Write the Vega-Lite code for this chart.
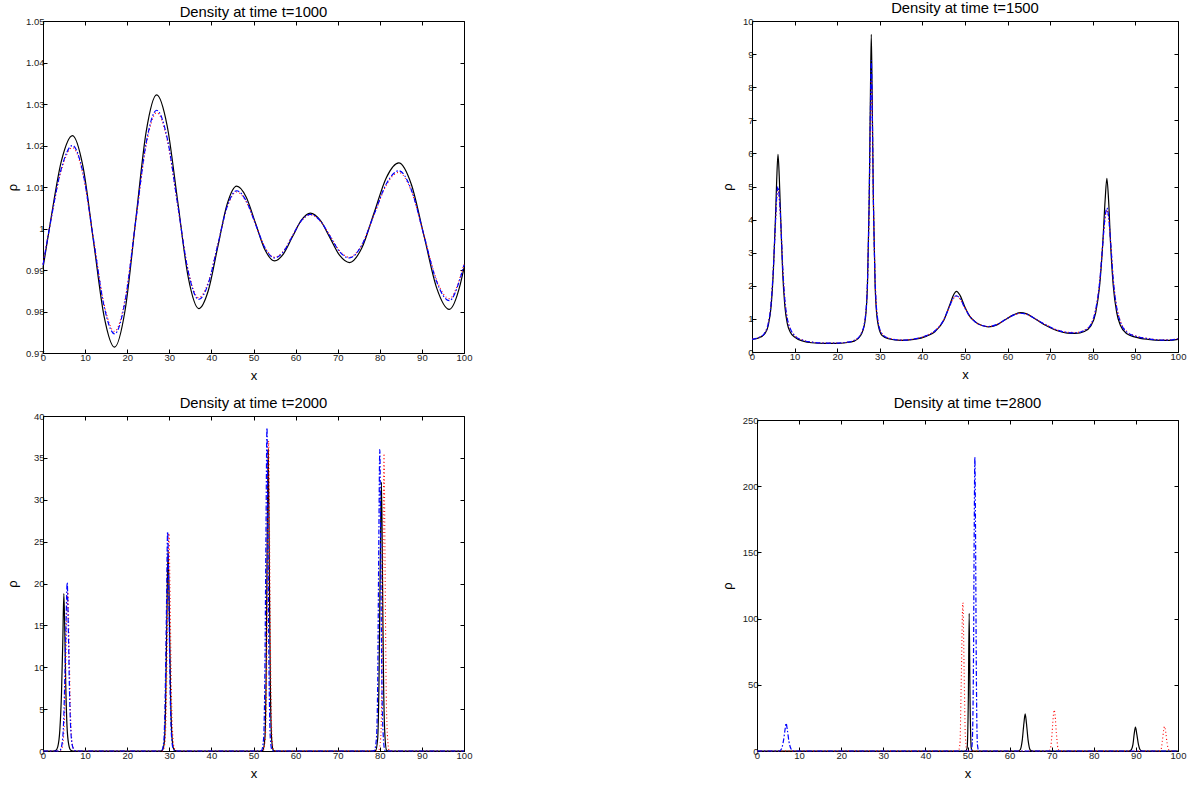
{
  "$schema": "https://vega.github.io/schema/vega-lite/v6.json",
  "background": "white",
  "padding": {"left": 5, "top": 0, "right": 5, "bottom": 5},
  "config": {
    "font": "Liberation Sans",
    "view": {"stroke": "black", "strokeWidth": 1},
    "axis": {"domainColor": "black", "tickColor": "black", "labelColor": "#222222", "titleColor": "black", "labelFont": "Liberation Sans", "labelFontSize": 9.5, "titleFont": "Liberation Sans", "titleFontSize": 13, "titleFontWeight": "normal", "tickSize": -4, "grid": false, "labelFlush": false, "labelOverlap": false, "labelPadding": 3},
    "axisBottom": {"minExtent": 14, "maxExtent": 14, "titlePadding": 12, "titleBaseline": "alphabetic"},
    "axisTop": {"minExtent": 0, "maxExtent": 0},
    "axisRight": {"minExtent": 0, "maxExtent": 0},
    "title": {"font": "Liberation Sans", "fontSize": 14.8, "fontWeight": "normal", "color": "black", "baseline": "alphabetic", "anchor": "middle", "frame": "group"},
    "line": {"interpolate": "monotone"}
  },
  "columns": 2,
  "align": "none",
  "spacing": {"column": 247, "row": 12},
  "concat": [
    {
      "width": 421, "height": 332,
      "title": {"text": "Density at time t=1000", "offset": -4},
      "layer": [
        {"data": {"name": "k1"}, "mark": {"type": "line", "color": "black", "strokeWidth": 1.2},
         "encoding": {
           "x": {"field": "x", "type": "quantitative", "scale": {"domain": [0, 100], "nice": false, "zero": false}, "axis": {"values": [0,10,20,30,40,50,60,70,80,90,100], "title": "x"}},
           "y": {"field": "y", "type": "quantitative", "scale": {"domain": [0.97, 1.05], "nice": false, "zero": false}, "axis": {"values": [0.97,0.98,0.99,1,1.01,1.02,1.03,1.04,1.05], "format": "~r", "title": "ρ", "minExtent": 20, "maxExtent": 20, "titlePadding": 4}}
         }},
        {"data": {"name": "r1"}, "mark": {"type": "line", "color": "red", "strokeWidth": 1.1, "strokeDash": [1, 2.5]},
         "encoding": {"x": {"field": "x", "type": "quantitative", "axis": null}, "y": {"field": "y", "type": "quantitative", "axis": null}}},
        {"data": {"name": "b1"}, "mark": {"type": "line", "color": "blue", "strokeWidth": 1.2, "strokeDash": [5, 2, 1.5, 2]},
         "encoding": {"x": {"field": "x", "type": "quantitative", "axis": null}, "y": {"field": "y", "type": "quantitative", "axis": null}}},
        {"data": {"name": "k1"}, "mark": {"type": "line", "opacity": 0},
         "encoding": {
           "x": {"field": "x", "type": "quantitative", "axis": {"orient": "top", "labels": false, "title": null, "domain": false, "minExtent": 0, "maxExtent": 0, "values": [0,10,20,30,40,50,60,70,80,90,100]}},
           "y": {"field": "y", "type": "quantitative", "axis": {"orient": "right", "labels": false, "title": null, "domain": false, "minExtent": 0, "maxExtent": 0, "values": [0.97,0.98,0.99,1,1.01,1.02,1.03,1.04,1.05]}}
         }}
      ],
      "resolve": {"axis": {"x": "independent", "y": "independent"}}
    },
    {
      "width": 426, "height": 331,
      "title": {"text": "Density at time t=1500", "offset": 0},
      "layer": [
        {"data": {"name": "k2"}, "mark": {"type": "line", "color": "black", "strokeWidth": 1.2},
         "encoding": {
           "x": {"field": "x", "type": "quantitative", "scale": {"domain": [0, 100], "nice": false, "zero": false}, "axis": {"values": [0,10,20,30,40,50,60,70,80,90,100], "title": "x"}},
           "y": {"field": "y", "type": "quantitative", "scale": {"domain": [0, 10], "nice": false, "zero": false}, "axis": {"values": [0,1,2,3,4,5,6,7,8,9,10], "format": "~r", "title": "ρ", "minExtent": 14, "maxExtent": 14, "titlePadding": 4}}
         }},
        {"data": {"name": "r2"}, "mark": {"type": "line", "color": "red", "strokeWidth": 1.1, "strokeDash": [1, 2.5]},
         "encoding": {"x": {"field": "x", "type": "quantitative", "axis": null}, "y": {"field": "y", "type": "quantitative", "axis": null}}},
        {"data": {"name": "b2"}, "mark": {"type": "line", "color": "blue", "strokeWidth": 1.2, "strokeDash": [5, 2, 1.5, 2]},
         "encoding": {"x": {"field": "x", "type": "quantitative", "axis": null}, "y": {"field": "y", "type": "quantitative", "axis": null}}},
        {"data": {"name": "k2"}, "mark": {"type": "line", "opacity": 0},
         "encoding": {
           "x": {"field": "x", "type": "quantitative", "axis": {"orient": "top", "labels": false, "title": null, "domain": false, "minExtent": 0, "maxExtent": 0, "values": [0,10,20,30,40,50,60,70,80,90,100]}},
           "y": {"field": "y", "type": "quantitative", "axis": {"orient": "right", "labels": false, "title": null, "domain": false, "minExtent": 0, "maxExtent": 0, "values": [0,1,2,3,4,5,6,7,8,9,10]}}
         }}
      ],
      "resolve": {"axis": {"x": "independent", "y": "independent"}}
    },
    {
      "width": 421, "height": 335,
      "title": {"text": "Density at time t=2000", "offset": 0},
      "layer": [
        {"data": {"name": "k3"}, "mark": {"type": "line", "color": "black", "strokeWidth": 1.2},
         "encoding": {
           "x": {"field": "x", "type": "quantitative", "scale": {"domain": [0, 100], "nice": false, "zero": false}, "axis": {"values": [0,10,20,30,40,50,60,70,80,90,100], "title": "x"}},
           "y": {"field": "y", "type": "quantitative", "scale": {"domain": [0, 40], "nice": false, "zero": false}, "axis": {"values": [0,5,10,15,20,25,30,35,40], "format": "~r", "title": "ρ", "minExtent": 20, "maxExtent": 20, "titlePadding": 4}}
         }},
        {"data": {"name": "r3"}, "mark": {"type": "line", "color": "red", "strokeWidth": 1.1, "strokeDash": [1, 2.5]},
         "encoding": {"x": {"field": "x", "type": "quantitative", "axis": null}, "y": {"field": "y", "type": "quantitative", "axis": null}}},
        {"data": {"name": "b3"}, "mark": {"type": "line", "color": "blue", "strokeWidth": 1.2, "strokeDash": [5, 2, 1.5, 2]},
         "encoding": {"x": {"field": "x", "type": "quantitative", "axis": null}, "y": {"field": "y", "type": "quantitative", "axis": null}}},
        {"data": {"name": "k3"}, "mark": {"type": "line", "opacity": 0},
         "encoding": {
           "x": {"field": "x", "type": "quantitative", "axis": {"orient": "top", "labels": false, "title": null, "domain": false, "minExtent": 0, "maxExtent": 0, "values": [0,10,20,30,40,50,60,70,80,90,100]}},
           "y": {"field": "y", "type": "quantitative", "axis": {"orient": "right", "labels": false, "title": null, "domain": false, "minExtent": 0, "maxExtent": 0, "values": [0,5,10,15,20,25,30,35,40]}}
         }}
      ],
      "resolve": {"axis": {"x": "independent", "y": "independent"}}
    },
    {
      "width": 421, "height": 331,
      "title": {"text": "Density at time t=2800", "offset": 4.5},
      "layer": [
        {"data": {"name": "k4"}, "mark": {"type": "line", "color": "black", "strokeWidth": 1.2},
         "encoding": {
           "x": {"field": "x", "type": "quantitative", "scale": {"domain": [0, 100], "nice": false, "zero": false}, "axis": {"values": [0,10,20,30,40,50,60,70,80,90,100], "title": "x"}},
           "y": {"field": "y", "type": "quantitative", "scale": {"domain": [0, 250], "nice": false, "zero": false}, "axis": {"values": [0,50,100,150,200,250], "format": "~r", "title": "ρ", "minExtent": 19, "maxExtent": 19, "titlePadding": 4}}
         }},
        {"data": {"name": "r4"}, "mark": {"type": "line", "color": "red", "strokeWidth": 1.1, "strokeDash": [1, 2.5]},
         "encoding": {"x": {"field": "x", "type": "quantitative", "axis": null}, "y": {"field": "y", "type": "quantitative", "axis": null}}},
        {"data": {"name": "b4"}, "mark": {"type": "line", "color": "blue", "strokeWidth": 1.2, "strokeDash": [5, 2, 1.5, 2]},
         "encoding": {"x": {"field": "x", "type": "quantitative", "axis": null}, "y": {"field": "y", "type": "quantitative", "axis": null}}},
        {"data": {"name": "k4"}, "mark": {"type": "line", "opacity": 0},
         "encoding": {
           "x": {"field": "x", "type": "quantitative", "axis": {"orient": "top", "labels": false, "title": null, "domain": false, "minExtent": 0, "maxExtent": 0, "values": [0,10,20,30,40,50,60,70,80,90,100]}},
           "y": {"field": "y", "type": "quantitative", "axis": {"orient": "right", "labels": false, "title": null, "domain": false, "minExtent": 0, "maxExtent": 0, "values": [0,50,100,150,200,250]}}
         }}
      ],
      "resolve": {"axis": {"x": "independent", "y": "independent"}}
    }
  ],
  "datasets": {
    "k1": [
      {"x":0,"y":0.9905},{"x":1.75,"y":1.0015},{"x":4.375,"y":1.0163},{"x":7,"y":1.0224},{"x":9.5,"y":1.0149},{"x":12,"y":0.9969},{"x":14.5,"y":0.9789},{"x":17,"y":0.9714},{"x":19.5,"y":0.9803},{"x":22,"y":1.0018},{"x":24.5,"y":1.0233},{"x":27,"y":1.0322},{"x":29.5,"y":1.0247},{"x":32,"y":1.0065},{"x":34.5,"y":0.9882},{"x":37,"y":0.9807},{"x":39.25,"y":0.985},{"x":41.5,"y":0.9955},{"x":43.75,"y":1.0059},{"x":46,"y":1.0102},{"x":48.25,"y":1.0076},{"x":50.5,"y":1.0012},{"x":52.75,"y":0.9948},{"x":55,"y":0.9922},{"x":57.125,"y":0.9939},{"x":59.25,"y":0.998},{"x":61.375,"y":1.002},{"x":63.5,"y":1.0037},{"x":65.825,"y":1.002},{"x":68.15,"y":0.9978},{"x":70.475,"y":0.9935},{"x":72.8,"y":0.9918},{"x":75.725,"y":0.9953},{"x":78.65,"y":1.0038},{"x":81.575,"y":1.0123},{"x":84.5,"y":1.0158},{"x":87.5,"y":1.0106},{"x":90.5,"y":0.9982},{"x":93.5,"y":0.9857},{"x":96.5,"y":0.9805},{"x":99.125,"y":0.9866},{"x":100,"y":0.9905}
    ],
    "b1": [
      {"x":0,"y":0.9912},{"x":1.75,"y":1.0013},{"x":4.375,"y":1.0145},{"x":7,"y":1.02},{"x":9.5,"y":1.0134},{"x":12,"y":0.9973},{"x":14.5,"y":0.9813},{"x":17,"y":0.9746},{"x":19.5,"y":0.9825},{"x":22,"y":1.0016},{"x":24.5,"y":1.0206},{"x":27,"y":1.0285},{"x":29.5,"y":1.0218},{"x":32,"y":1.0057},{"x":34.5,"y":0.9896},{"x":37,"y":0.9829},{"x":39.25,"y":0.9867},{"x":41.5,"y":0.996},{"x":43.75,"y":1.0053},{"x":46,"y":1.0091},{"x":48.25,"y":1.0067},{"x":50.5,"y":1.001},{"x":52.75,"y":0.9953},{"x":55,"y":0.9929},{"x":57.125,"y":0.9944},{"x":59.25,"y":0.9982},{"x":61.375,"y":1.0019},{"x":63.5,"y":1.0034},{"x":65.825,"y":1.0019},{"x":68.15,"y":0.9982},{"x":70.475,"y":0.9944},{"x":72.8,"y":0.9929},{"x":75.725,"y":0.996},{"x":78.65,"y":1.0034},{"x":81.575,"y":1.0108},{"x":84.5,"y":1.0139},{"x":87.5,"y":1.0093},{"x":90.5,"y":0.9983},{"x":93.5,"y":0.9872},{"x":96.5,"y":0.9826},{"x":99.125,"y":0.9881},{"x":100,"y":0.9912}
    ],
    "r1": [
      {"x":0,"y":0.9914},{"x":1.75,"y":1.0013},{"x":4.375,"y":1.0141},{"x":7,"y":1.0195},{"x":9.5,"y":1.013},{"x":12,"y":0.9974},{"x":14.5,"y":0.9818},{"x":17,"y":0.9752},{"x":19.5,"y":0.983},{"x":22,"y":1.0015},{"x":24.5,"y":1.02},{"x":27,"y":1.0279},{"x":29.5,"y":1.0213},{"x":32,"y":1.0055},{"x":34.5,"y":0.9899},{"x":37,"y":0.9833},{"x":39.25,"y":0.9871},{"x":41.5,"y":0.9961},{"x":43.75,"y":1.0051},{"x":46,"y":1.0088},{"x":48.25,"y":1.0065},{"x":50.5,"y":1.001},{"x":52.75,"y":0.9954},{"x":55,"y":0.9931},{"x":57.125,"y":0.9946},{"x":59.25,"y":0.9983},{"x":61.375,"y":1.0018},{"x":63.5,"y":1.0033},{"x":65.825,"y":1.0018},{"x":68.15,"y":0.9983},{"x":70.475,"y":0.9946},{"x":72.8,"y":0.9931},{"x":75.725,"y":0.9961},{"x":78.65,"y":1.0033},{"x":81.575,"y":1.0105},{"x":84.5,"y":1.0135},{"x":87.5,"y":1.009},{"x":90.5,"y":0.9983},{"x":93.5,"y":0.9876},{"x":96.5,"y":0.9831},{"x":99.125,"y":0.9884},{"x":100,"y":0.9914}
    ],
    "k2": [
      {"x":0,"y":0.38},{"x":1,"y":0.4},{"x":2,"y":0.45},{"x":3,"y":0.55},{"x":3.8,"y":0.8},{"x":4.5,"y":1.4},{"x":5,"y":2.4},{"x":5.5,"y":4.0},{"x":5.8,"y":5.2},{"x":6.1,"y":5.97},{"x":6.4,"y":5.3},{"x":6.8,"y":3.8},{"x":7.2,"y":2.4},{"x":7.7,"y":1.4},{"x":8.3,"y":0.85},{"x":9,"y":0.6},{"x":10,"y":0.45},{"x":12,"y":0.33},{"x":14,"y":0.28},{"x":17,"y":0.26},{"x":20,"y":0.26},{"x":22,"y":0.28},{"x":24,"y":0.33},{"x":25.5,"y":0.5},{"x":26.5,"y":0.9},{"x":27.1,"y":2.0},{"x":27.5,"y":4.5},{"x":27.8,"y":7.8},{"x":28,"y":9.6},{"x":28.2,"y":7.8},{"x":28.5,"y":4.5},{"x":28.9,"y":2.0},{"x":29.5,"y":0.9},{"x":30.5,"y":0.5},{"x":32,"y":0.4},{"x":35,"y":0.35},{"x":38,"y":0.38},{"x":41,"y":0.48},{"x":43,"y":0.62},{"x":45,"y":0.95},{"x":46.5,"y":1.45},{"x":47.3,"y":1.72},{"x":48,"y":1.83},{"x":48.8,"y":1.72},{"x":50,"y":1.35},{"x":51,"y":1.1},{"x":52.5,"y":0.9},{"x":54,"y":0.8},{"x":55.5,"y":0.76},{"x":57.5,"y":0.82},{"x":59.5,"y":0.98},{"x":61.5,"y":1.13},{"x":63,"y":1.19},{"x":64.5,"y":1.15},{"x":66.5,"y":1.0},{"x":69,"y":0.8},{"x":71.5,"y":0.65},{"x":74,"y":0.57},{"x":76,"y":0.56},{"x":78,"y":0.62},{"x":79.5,"y":0.78},{"x":80.7,"y":1.2},{"x":81.6,"y":2.0},{"x":82.3,"y":3.2},{"x":82.9,"y":4.6},{"x":83.3,"y":5.25},{"x":83.7,"y":4.6},{"x":84.2,"y":3.2},{"x":84.8,"y":2.0},{"x":85.6,"y":1.2},{"x":86.5,"y":0.8},{"x":88,"y":0.55},{"x":90,"y":0.45},{"x":93,"y":0.38},{"x":96,"y":0.35},{"x":98,"y":0.35},{"x":100,"y":0.38}
    ],
    "b2": [
      {"x":0,"y":0.38},{"x":1,"y":0.41},{"x":2,"y":0.46},{"x":3,"y":0.58},{"x":3.8,"y":0.85},{"x":4.5,"y":1.5},{"x":5,"y":2.5},{"x":5.5,"y":3.9},{"x":5.8,"y":4.7},{"x":6.1,"y":5.0},{"x":6.4,"y":4.7},{"x":6.8,"y":3.8},{"x":7.2,"y":2.6},{"x":7.7,"y":1.6},{"x":8.3,"y":1.0},{"x":9,"y":0.7},{"x":10,"y":0.5},{"x":12,"y":0.35},{"x":14,"y":0.3},{"x":17,"y":0.27},{"x":20,"y":0.27},{"x":22,"y":0.29},{"x":24,"y":0.35},{"x":25.5,"y":0.52},{"x":26.5,"y":0.95},{"x":27.1,"y":2.1},{"x":27.5,"y":4.5},{"x":27.8,"y":7.4},{"x":28,"y":8.8},{"x":28.2,"y":7.6},{"x":28.5,"y":4.6},{"x":28.9,"y":2.2},{"x":29.5,"y":1.0},{"x":30.5,"y":0.55},{"x":32,"y":0.42},{"x":35,"y":0.36},{"x":38,"y":0.39},{"x":41,"y":0.5},{"x":43,"y":0.64},{"x":45,"y":0.97},{"x":46.5,"y":1.42},{"x":47.3,"y":1.64},{"x":48,"y":1.7},{"x":48.8,"y":1.62},{"x":50,"y":1.32},{"x":51,"y":1.1},{"x":52.5,"y":0.9},{"x":54,"y":0.8},{"x":55.5,"y":0.77},{"x":57.5,"y":0.83},{"x":59.5,"y":0.98},{"x":61.5,"y":1.12},{"x":63,"y":1.17},{"x":64.5,"y":1.14},{"x":66.5,"y":1.0},{"x":69,"y":0.82},{"x":71.5,"y":0.67},{"x":74,"y":0.59},{"x":76,"y":0.58},{"x":78,"y":0.65},{"x":79.5,"y":0.82},{"x":80.7,"y":1.3},{"x":81.6,"y":2.1},{"x":82.3,"y":3.2},{"x":82.9,"y":4.1},{"x":83.3,"y":4.35},{"x":83.7,"y":4.1},{"x":84.2,"y":3.3},{"x":84.8,"y":2.2},{"x":85.6,"y":1.35},{"x":86.5,"y":0.9},{"x":88,"y":0.6},{"x":90,"y":0.48},{"x":93,"y":0.4},{"x":96,"y":0.36},{"x":98,"y":0.36},{"x":100,"y":0.4}
    ],
    "r2": [
      {"x":0,"y":0.39},{"x":1,"y":0.41},{"x":2,"y":0.46},{"x":3,"y":0.58},{"x":3.8,"y":0.86},{"x":4.5,"y":1.5},{"x":5,"y":2.5},{"x":5.5,"y":3.8},{"x":5.8,"y":4.6},{"x":6.1,"y":4.9},{"x":6.4,"y":4.6},{"x":6.8,"y":3.8},{"x":7.2,"y":2.6},{"x":7.7,"y":1.6},{"x":8.3,"y":1.0},{"x":9,"y":0.7},{"x":10,"y":0.5},{"x":12,"y":0.36},{"x":14,"y":0.3},{"x":17,"y":0.27},{"x":20,"y":0.27},{"x":22,"y":0.29},{"x":24,"y":0.35},{"x":25.5,"y":0.53},{"x":26.5,"y":0.96},{"x":27.1,"y":2.1},{"x":27.5,"y":4.4},{"x":27.8,"y":7.0},{"x":28,"y":8.2},{"x":28.2,"y":7.2},{"x":28.5,"y":4.6},{"x":28.9,"y":2.2},{"x":29.5,"y":1.0},{"x":30.5,"y":0.56},{"x":32,"y":0.43},{"x":35,"y":0.36},{"x":38,"y":0.39},{"x":41,"y":0.5},{"x":43,"y":0.65},{"x":45,"y":0.97},{"x":46.5,"y":1.41},{"x":47.3,"y":1.62},{"x":48,"y":1.68},{"x":48.8,"y":1.61},{"x":50,"y":1.32},{"x":51,"y":1.1},{"x":52.5,"y":0.9},{"x":54,"y":0.8},{"x":55.5,"y":0.77},{"x":57.5,"y":0.83},{"x":59.5,"y":0.98},{"x":61.5,"y":1.12},{"x":63,"y":1.17},{"x":64.5,"y":1.14},{"x":66.5,"y":1.0},{"x":69,"y":0.82},{"x":71.5,"y":0.67},{"x":74,"y":0.6},{"x":76,"y":0.59},{"x":78,"y":0.66},{"x":79.5,"y":0.83},{"x":80.7,"y":1.3},{"x":81.6,"y":2.1},{"x":82.3,"y":3.2},{"x":82.9,"y":4.05},{"x":83.3,"y":4.3},{"x":83.7,"y":4.05},{"x":84.2,"y":3.3},{"x":84.8,"y":2.2},{"x":85.6,"y":1.38},{"x":86.5,"y":0.92},{"x":88,"y":0.62},{"x":90,"y":0.49},{"x":93,"y":0.41},{"x":96,"y":0.37},{"x":98,"y":0.37},{"x":100,"y":0.4}
    ],
    "k3": [
      {"x":0,"y":0},{"x":2.5,"y":0},{"x":3,"y":0.05},{"x":3.5,"y":0.5},{"x":4,"y":2.5},{"x":4.4,"y":7},{"x":4.7,"y":13},{"x":4.95,"y":18.8},{"x":5.15,"y":15},{"x":5.4,"y":8},{"x":5.7,"y":3},{"x":6.1,"y":0.8},{"x":6.6,"y":0.1},{"x":7.2,"y":0},{"x":27.8,"y":0},{"x":28.3,"y":0.05},{"x":28.8,"y":1},{"x":29.1,"y":5},{"x":29.4,"y":15},{"x":29.7,"y":24},{"x":30,"y":17},{"x":30.3,"y":7},{"x":30.6,"y":2},{"x":31,"y":0.3},{"x":31.5,"y":0.02},{"x":32,"y":0},{"x":51.7,"y":0},{"x":52.2,"y":0.05},{"x":52.7,"y":1.5},{"x":53,"y":9},{"x":53.25,"y":25},{"x":53.5,"y":36},{"x":53.75,"y":22},{"x":54,"y":8},{"x":54.3,"y":1.5},{"x":54.7,"y":0.1},{"x":55.2,"y":0},{"x":78.5,"y":0},{"x":79,"y":0.05},{"x":79.5,"y":1.5},{"x":79.8,"y":8},{"x":80.1,"y":22},{"x":80.4,"y":32.1},{"x":80.65,"y":20},{"x":80.9,"y":8},{"x":81.2,"y":2},{"x":81.6,"y":0.1},{"x":82.1,"y":0},{"x":100,"y":0}
    ],
    "b3": [
      {"x":0,"y":0},{"x":3.5,"y":0},{"x":4,"y":0.05},{"x":4.5,"y":0.8},{"x":4.9,"y":3.5},{"x":5.2,"y":9},{"x":5.5,"y":16},{"x":5.75,"y":20.1},{"x":6,"y":15},{"x":6.3,"y":7},{"x":6.6,"y":2.5},{"x":7,"y":0.6},{"x":7.6,"y":0.05},{"x":8.2,"y":0},{"x":27.7,"y":0},{"x":28.2,"y":0.05},{"x":28.7,"y":1.2},{"x":29,"y":6},{"x":29.3,"y":16},{"x":29.6,"y":26.2},{"x":29.9,"y":18},{"x":30.2,"y":7},{"x":30.5,"y":2},{"x":30.9,"y":0.3},{"x":31.4,"y":0},{"x":51.4,"y":0},{"x":51.9,"y":0.05},{"x":52.4,"y":1.5},{"x":52.7,"y":9},{"x":52.95,"y":25},{"x":53.2,"y":38.6},{"x":53.45,"y":24},{"x":53.7,"y":9},{"x":54,"y":1.5},{"x":54.4,"y":0.1},{"x":54.9,"y":0},{"x":78.2,"y":0},{"x":78.7,"y":0.05},{"x":79.2,"y":1.5},{"x":79.5,"y":8},{"x":79.75,"y":24},{"x":80,"y":36},{"x":80.25,"y":22},{"x":80.5,"y":8},{"x":80.8,"y":2},{"x":81.2,"y":0.1},{"x":81.7,"y":0},{"x":100,"y":0}
    ],
    "r3": [
      {"x":0,"y":0},{"x":3.7,"y":0},{"x":4.2,"y":0.05},{"x":4.7,"y":0.8},{"x":5.1,"y":4},{"x":5.4,"y":10},{"x":5.65,"y":16},{"x":5.9,"y":19},{"x":6.15,"y":14},{"x":6.45,"y":6},{"x":6.8,"y":1.5},{"x":7.2,"y":0.3},{"x":7.7,"y":0.02},{"x":8.2,"y":0},{"x":28,"y":0},{"x":28.5,"y":0.05},{"x":29,"y":1.2},{"x":29.3,"y":6},{"x":29.6,"y":16},{"x":29.9,"y":26},{"x":30.2,"y":18},{"x":30.5,"y":7},{"x":30.8,"y":2},{"x":31.2,"y":0.3},{"x":31.7,"y":0},{"x":51.8,"y":0},{"x":52.3,"y":0.05},{"x":52.8,"y":1.5},{"x":53.1,"y":9},{"x":53.35,"y":24},{"x":53.6,"y":37},{"x":53.85,"y":23},{"x":54.1,"y":9},{"x":54.4,"y":1.5},{"x":54.8,"y":0.1},{"x":55.3,"y":0},{"x":79.2,"y":0},{"x":79.7,"y":0.05},{"x":80.2,"y":1.5},{"x":80.5,"y":8},{"x":80.75,"y":23},{"x":81,"y":35.5},{"x":81.25,"y":22},{"x":81.5,"y":8},{"x":81.8,"y":2},{"x":82.2,"y":0.1},{"x":82.7,"y":0},{"x":100,"y":0}
    ],
    "k4": [
      {"x":0,"y":0},{"x":49.5,"y":0},{"x":49.9,"y":2},{"x":50.2,"y":40},{"x":50.4,"y":104},{"x":50.6,"y":40},{"x":50.9,"y":2},{"x":51.3,"y":0},{"x":62,"y":0},{"x":62.5,"y":0.8},{"x":63,"y":8},{"x":63.4,"y":21},{"x":63.7,"y":28},{"x":64,"y":21},{"x":64.4,"y":8},{"x":64.9,"y":0.8},{"x":65.5,"y":0},{"x":88.3,"y":0},{"x":88.8,"y":0.6},{"x":89.3,"y":5},{"x":89.6,"y":13},{"x":89.9,"y":18},{"x":90.2,"y":13},{"x":90.6,"y":5},{"x":91.1,"y":0.6},{"x":91.6,"y":0},{"x":100,"y":0}
    ],
    "b4": [
      {"x":0,"y":0},{"x":5.3,"y":0},{"x":5.8,"y":1.5},{"x":6.3,"y":8},{"x":6.7,"y":17},{"x":6.9,"y":21},{"x":7.2,"y":16},{"x":7.6,"y":7},{"x":8.1,"y":1.5},{"x":8.7,"y":0},{"x":50.8,"y":0},{"x":51.1,"y":5},{"x":51.4,"y":60},{"x":51.6,"y":170},{"x":51.75,"y":222},{"x":51.9,"y":170},{"x":52.1,"y":60},{"x":52.35,"y":5},{"x":52.7,"y":0},{"x":100,"y":0}
    ],
    "r4": [
      {"x":0,"y":0},{"x":47.8,"y":0},{"x":48.2,"y":5},{"x":48.5,"y":50},{"x":48.9,"y":112},{"x":49.2,"y":60},{"x":49.5,"y":10},{"x":49.9,"y":0},{"x":69.3,"y":0},{"x":69.7,"y":2},{"x":70.1,"y":14},{"x":70.4,"y":27},{"x":70.6,"y":31},{"x":70.8,"y":27},{"x":71.1,"y":14},{"x":71.5,"y":2},{"x":71.9,"y":0},{"x":95.6,"y":0},{"x":96,"y":1.5},{"x":96.3,"y":8},{"x":96.6,"y":16},{"x":96.8,"y":18.5},{"x":97.1,"y":14},{"x":97.4,"y":6},{"x":97.8,"y":1},{"x":98.2,"y":0},{"x":100,"y":0}
    ]
  }
}
